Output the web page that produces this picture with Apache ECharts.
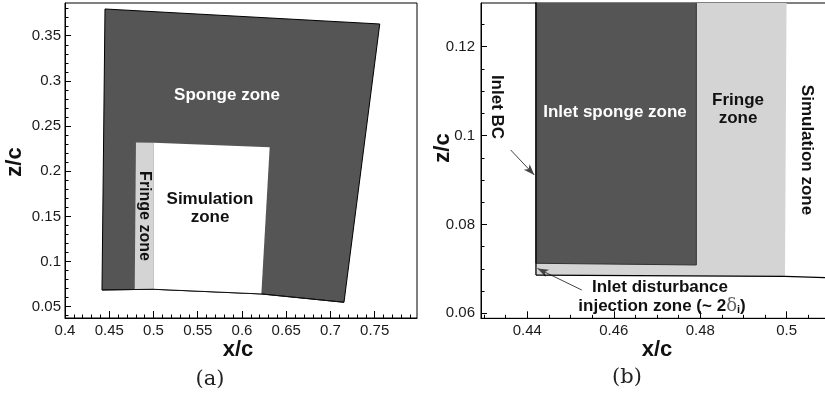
<!DOCTYPE html>
<html><head><meta charset="utf-8">
<script src="https://cdn.jsdelivr.net/npm/echarts@6/dist/echarts.min.js"></script>
<style>html,body{margin:0;padding:0;background:#fff}#c{width:825px;height:399px}</style>
</head><body><div id="c"></div><script>
// ---------- Panel (a) ----------
const aXTicks = [0.4, 0.45, 0.5, 0.55, 0.6, 0.65, 0.7, 0.75];
const aZTicks = [0.05, 0.1, 0.15, 0.2, 0.25, 0.3, 0.35];
const aSponge = [[0.4418,0.0685],[0.4452,0.3796],[0.7557,0.3630],[0.7153,0.0549],[0.6219,0.0641],[0.4994,0.0693]];
const aFringe = [[0.4788,0.0693],[0.5002,0.0693],[0.5002,0.2316],[0.4802,0.2318]];
const aSim    = [[0.5002,0.0693],[0.6219,0.0641],[0.6313,0.2264],[0.5002,0.2316]];
const aWall   = [[0.4418,0.0685],[0.4994,0.0693],[0.6219,0.0641],[0.7153,0.0549]];
// ---------- Panel (b) ----------
const bXTicks = [0.44, 0.46, 0.48, 0.5];
const bZTicks = [0.06, 0.08, 0.1, 0.12];
const bFringe = [[0.442,0.0686],[0.4996,0.0683],[0.5,0.135],[0.442,0.135]];
const bSponge = [[0.442,0.07125],[0.4791,0.07087],[0.4791,0.135],[0.442,0.135]];
const bWall   = [[0.442,0.0686],[0.4996,0.0683],[0.5102,0.0680]];
const bInlet  = [[0.442,0.0686],[0.442,0.135]];
const bArrows = [[[0.43616,0.09675],[0.44162,0.09112]], [[0.45258,0.06524],[0.44236,0.07008]]];

function steps(a, b, s) { const r = []; for (let v = a; v <= b + s / 10; v += s) r.push(+v.toFixed(4)); return r; }
const aXMinor = steps(0.41, 0.79, 0.01);
const aZMinor = steps(0.04, 0.38, 0.01);
const bXMinor = steps(0.43, 0.51, 0.005);
const bZMinor = steps(0.06, 0.125, 0.005);

const FONT = "'Liberation Sans', Arial, Helvetica, sans-serif";
const fmt = v => String(parseFloat((+v).toFixed(3)));

function majorAxis(grid, pos, min, max, ticks, len, margin) {
  return { type: 'value', gridIndex: grid, position: pos, min, max,
    axisLine: { show: true, lineStyle: { color: '#000', width: 1 } },
    axisTick: { show: true, inside: true, length: len, customValues: ticks, lineStyle: { color: '#000', width: 1 } },
    axisLabel: { show: true, customValues: ticks, formatter: fmt, color: '#1a1a1a', fontSize: 15, fontFamily: FONT, margin },
    splitLine: { show: false } };
}
function minorAxis(grid, pos, min, max, ticks, len) {
  return { type: 'value', gridIndex: grid, position: pos, min, max,
    axisLine: { show: false },
    axisTick: { show: true, inside: true, length: len, customValues: ticks, lineStyle: { color: '#000', width: 1 } },
    axisLabel: { show: false }, splitLine: { show: false } };
}
function poly(xi, yi, pts, fill, stroke, lw) {
  return { type: 'custom', xAxisIndex: xi, yAxisIndex: yi, clip: true, silent: true, data: pts,
    renderItem: (params, api) => params.dataIndex !== 0 ? null : ({
      type: 'polygon', shape: { points: pts.map(p => api.coord(p)) },
      style: { fill, stroke: stroke || null, lineWidth: lw || 0 } }) };
}
function line(xi, yi, pts, color, w, extra) {
  return Object.assign({ type: 'line', xAxisIndex: xi, yAxisIndex: yi, data: pts, showSymbol: false, silent: true,
    animation: false, lineStyle: { color, width: w }, z: 5 }, extra || {});
}

const A = { xmin: 0.4, xmax: 0.7978, zmin: 0.03748, zmax: 0.38624 };
const B = { xmin: 0.42929, xmax: 0.51025, zmin: 0.05887, zmax: 0.12983 };

function txt(x, y, text, opt) {
  return Object.assign({ type: 'text', x, y, rotation: opt && opt.rot || 0,
    style: Object.assign({ text, fill: '#111', font: 'bold 17px ' + FONT, align: 'center', verticalAlign: 'middle' }, opt && opt.style || {}) , z: 100 });
}

const chart = echarts.init(document.getElementById('c'), null, { renderer: 'canvas' });
chart.setOption({
  animation: false,
  backgroundColor: '#fff',
  grid: [
    { left: 65, top: 3, width: 352, height: 315, show: true, borderColor: '#000', borderWidth: 1, backgroundColor: 'transparent', outerBoundsMode: 'none' },
    { left: 481, top: 3, width: 350, height: 315.3, show: true, borderColor: '#000', borderWidth: 1, backgroundColor: 'transparent', outerBoundsMode: 'none' }
  ],
  xAxis: [
    majorAxis(0, 'bottom', A.xmin, A.xmax, aXTicks, 7, 5),
    minorAxis(0, 'bottom', A.xmin, A.xmax, aXMinor, 3.5),
    majorAxis(1, 'bottom', B.xmin, B.xmax, bXTicks, 7, 5),
    minorAxis(1, 'bottom', B.xmin, B.xmax, bXMinor, 3.5)
  ],
  yAxis: [
    majorAxis(0, 'left', A.zmin, A.zmax, aZTicks, 6, 4),
    minorAxis(0, 'left', A.zmin, A.zmax, aZMinor, 3.5),
    majorAxis(1, 'left', B.zmin, B.zmax, bZTicks, 6, 6),
    minorAxis(1, 'left', B.zmin, B.zmax, bZMinor, 3.5)
  ],
  series: [
    poly(0, 0, aSponge, '#555555', '#000', 1),
    poly(0, 0, aFringe, '#d4d4d4'),
    poly(0, 0, aSim, '#ffffff'),
    line(0, 0, aWall, '#111', 1),
    poly(2, 2, bFringe, '#d4d4d4'),
    poly(2, 2, bSponge, '#555555', '#333', 1),
    line(2, 2, bWall, '#000', 1.3, {
      markLine: { silent: true, animation: false, symbol: ['none', 'arrow'], symbolSize: [6, 11],
        label: { show: false }, lineStyle: { color: '#444', width: 1, type: 'solid' },
        data: bArrows.map(a => [{ coord: a[0] }, { coord: a[1] }]) }
    }),
    line(2, 2, bInlet, '#000', 1.3)
  ],
  graphic: [
    // panel (a)
    txt(238, 350, 'x/c', { style: { font: 'bold 22px ' + FONT } }),
    txt(15, 162, 'z/c', { rot: Math.PI / 2, style: { font: 'bold 22px ' + FONT } }),
    txt(227, 95, 'Sponge zone', { style: { fill: '#fff' } }),
    txt(144, 216, 'Fringe zone', { rot: -Math.PI / 2, style: { font: 'bold 16px ' + FONT } }),
    txt(210, 199, 'Simulation', {}),
    txt(210, 217, 'zone', {}),
    txt(210, 380, '(a)', { style: { font: "21px 'DejaVu Serif', 'Liberation Serif', serif", fill: '#222' } }),
    // panel (b)
    txt(657, 350, 'x/c', { style: { font: 'bold 22px ' + FONT } }),
    txt(443, 148, 'z/c', { rot: Math.PI / 2, style: { font: 'bold 22px ' + FONT } }),
    txt(497, 107, 'Inlet BC', { rot: -Math.PI / 2 }),
    txt(615, 112, 'Inlet sponge zone', { style: { fill: '#fff' } }),
    txt(738, 100, 'Fringe', {}),
    txt(738, 118, 'zone', {}),
    txt(807, 150, 'Simulation zone', { rot: -Math.PI / 2 }),
    txt(660, 287, 'Inlet disturbance', {}),
    { type: 'text', x: 662, y: 306, z: 100, style: {
      text: '{n|injection zone (~ 2}{d|δ}{s|i}{n|)}', align: 'center', verticalAlign: 'middle',
      rich: { n: { font: 'bold 17px ' + FONT, fill: '#111' },
              d: { font: "18px 'DejaVu Serif', serif", fill: '#666' },
              s: { font: 'bold 11px ' + FONT, fill: '#111', padding: [8, 0, 0, 0] } } } },
    txt(627, 378, '(b)', { style: { font: "21px 'DejaVu Serif', 'Liberation Serif', serif", fill: '#222' } })
  ]
});
</script></body></html>
